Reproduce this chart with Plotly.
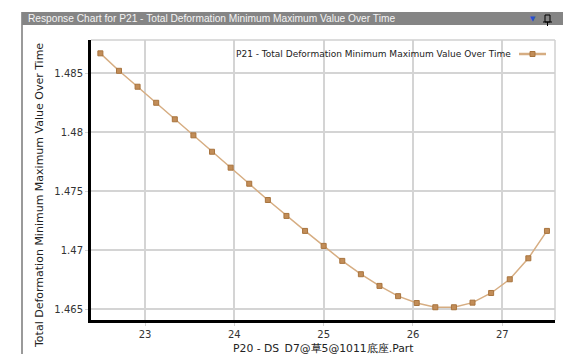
import plotly.graph_objects as go

# Data
x_vals = [22.5 + i * 5 / 24 for i in range(25)]
y_vals = [1.48667, 1.48519, 1.48384, 1.48248, 1.48108, 1.47972, 1.47833, 1.47698,
          1.47562, 1.47424, 1.47289, 1.47162, 1.47035, 1.46908, 1.46795, 1.46696,
          1.46609, 1.46551, 1.46515, 1.46515, 1.46554, 1.46636, 1.46752, 1.46930,
          1.47162]
x_ticks = [23, 24, 25, 26, 27]
y_ticks = [1.465, 1.47, 1.475, 1.48, 1.485]
y_tick_text = ["1.465", "1.47", "1.475", "1.48", "1.485"]

series_name = "P21 - Total Deformation Minimum Maximum Value Over Time"
panel_title = "Response Chart for P21 - Total Deformation Minimum Maximum Value Over Time"
x_title = "P20 - DS_D7@草5@1011底座.Part"
y_title = "Total Deformation Minimum Maximum Value Over Time"

W, H = 563, 354
ML, MR, MT, MB = 91, 8, 40, 34
FONT = "DejaVu Sans"
LINE_COLOR = "#d6ad82"
MARK_COLOR = "#c28d58"
MARK_EDGE = "#a8743e"


def px_x(p):
    return (p - ML) / (W - ML - MR)


def px_y(p):
    return (H - MB - p) / (H - MT - MB)


fig = go.Figure()
fig.add_trace(go.Scatter(
    x=x_vals, y=y_vals, mode="lines+markers", name=series_name,
    line=dict(color=LINE_COLOR, width=1.5),
    marker=dict(symbol="square", size=5, color=MARK_COLOR,
                line=dict(color=MARK_EDGE, width=1)),
    showlegend=False,
))

fig.update_layout(
    width=W, height=H,
    margin=dict(l=ML, r=MR, t=MT, b=MB),
    paper_bgcolor="white", plot_bgcolor="white",
    font=dict(family=FONT, size=10, color="#333333"),
    showlegend=False,
    xaxis=dict(range=[22.395, 27.59], tickvals=x_ticks, automargin=False,
               showgrid=True, gridcolor="#d4d4d4", gridwidth=1.5,
               showline=True, linecolor="black", linewidth=3,
               ticks="outside", ticklen=3, tickcolor="#d4d4d4",
               tickfont=dict(size=10, color="#333333"),
               zeroline=False),
    yaxis=dict(range=[1.46407, 1.4878], tickvals=y_ticks, ticktext=y_tick_text,
               automargin=False,
               showgrid=True, gridcolor="#d4d4d4", gridwidth=1.5,
               showline=True, linecolor="black", linewidth=3,
               ticks="outside", ticklen=3, tickcolor="#d4d4d4",
               tickfont=dict(size=10, color="#333333"),
               zeroline=False),
)

# plot frame top/right (light gray)
fig.add_shape(type="line", xref="paper", yref="paper", x0=0, x1=1, y0=1, y1=1,
              line=dict(color="#d0d0d0", width=1.5))
fig.add_shape(type="line", xref="paper", yref="paper", x0=1, x1=1, y0=0, y1=1,
              line=dict(color="#d0d0d0", width=1.5))

# legend: label to the left of the key
fig.add_annotation(text=series_name, xref="paper", yref="paper",
                   x=px_x(513), xanchor="right", y=px_y(54), yanchor="middle",
                   showarrow=False, font=dict(size=9, color="#222222", family=FONT))
fig.add_shape(type="line", xref="paper", yref="paper",
              x0=px_x(519), x1=px_x(546), y0=px_y(54), y1=px_y(54),
              line=dict(color=LINE_COLOR, width=2.5))
fig.add_shape(type="rect", xref="paper", yref="paper",
              x0=px_x(530), x1=px_x(535), y0=px_y(56.5), y1=px_y(51.5),
              line=dict(color=MARK_EDGE, width=1), fillcolor=MARK_COLOR)

# axis titles
fig.add_annotation(text=y_title, xref="paper", yref="paper",
                   x=px_x(39), xanchor="center", y=px_y(196), yanchor="middle",
                   textangle=-90, showarrow=False,
                   font=dict(size=11, color="#222222", family=FONT))
fig.add_annotation(text=x_title, xref="paper", yref="paper",
                   x=px_x(323), xanchor="center", y=px_y(348), yanchor="middle",
                   showarrow=False,
                   font=dict(size=10.8, color="#222222", family=FONT))

# panel chrome: left border and title bar
fig.add_shape(type="line", xref="paper", yref="paper",
              x0=px_x(22), x1=px_x(22), y0=px_y(12), y1=px_y(354),
              line=dict(color="#9a9a9a", width=2))
fig.add_shape(type="rect", xref="paper", yref="paper",
              x0=px_x(22), x1=px_x(563), y0=px_y(25), y1=px_y(12),
              line=dict(width=0), fillcolor="#858585", layer="above")
fig.add_annotation(text=panel_title, xref="paper", yref="paper",
                   x=px_x(26), xanchor="left", y=px_y(18.5), yanchor="middle",
                   showarrow=False,
                   font=dict(size=10.2, color="#f4f4f4", family="Liberation Sans"))
fig.add_annotation(text="▼", xref="paper", yref="paper",
                   x=px_x(533), xanchor="center", y=px_y(18.5), yanchor="middle",
                   showarrow=False, font=dict(size=7, color="#2a4fd0"))
# pin icon drawn with small shapes
fig.add_shape(type="rect", xref="paper", yref="paper",
              x0=px_x(545), x1=px_x(550), y0=px_y(22), y1=px_y(15),
              line=dict(color="black", width=1), fillcolor="rgba(0,0,0,0)")
fig.add_shape(type="line", xref="paper", yref="paper",
              x0=px_x(543), x1=px_x(552), y0=px_y(22), y1=px_y(22),
              line=dict(color="black", width=1))
fig.add_shape(type="line", xref="paper", yref="paper",
              x0=px_x(547.5), x1=px_x(547.5), y0=px_y(22), y1=px_y(26),
              line=dict(color="black", width=1))

fig.write_html("out.html")
